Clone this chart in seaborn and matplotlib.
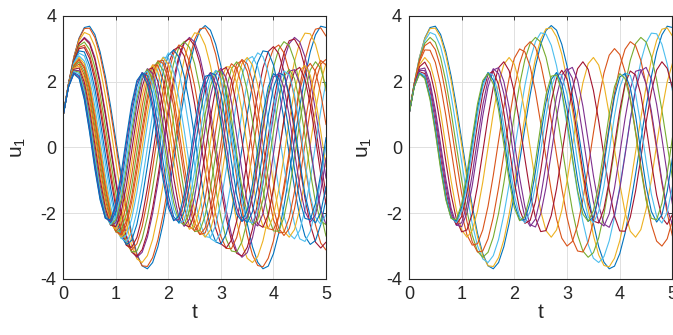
import numpy as np
import pandas as pd
import matplotlib
matplotlib.use("Agg")
import matplotlib.pyplot as plt
import seaborn as sns

# time grid of the solver output (step 0.1)
t = np.linspace(0, 5, 51)

# u1(t) for each run (named by first peak height)
u_370 = [1.00, 1.95, 2.74, 3.32, 3.64, 3.68, 3.43, 2.90, 2.16, 1.24, 0.22, -0.81, -1.78, -2.61, -3.23, -3.60, -3.69, -3.50, -3.02, -2.31, -1.42, -0.42, 0.61, 1.60, 2.46, 3.13, 3.55, 3.70, 3.56, 3.13, 2.47, 1.61, 0.62, -0.42, -1.42, -2.31, -3.02, -3.49, -3.69, -3.61, -3.23, -2.61, -1.78, -0.81, 0.22, 1.23, 2.15, 2.90, 3.42, 3.68, 3.64]
u_365 = [1.00, 1.95, 2.74, 3.30, 3.61, 3.62, 3.34, 2.79, 2.02, 1.08, 0.06, -0.97, -1.92, -2.72, -3.29, -3.60, -3.62, -3.35, -2.81, -2.04, -1.11, -0.09, 0.94, 1.90, 2.70, 3.28, 3.60, 3.63, 3.36, 2.83, 2.06, 1.14, 0.11, -0.92, -1.87, -2.68, -3.27, -3.59, -3.63, -3.37, -2.84, -2.09, -1.16, -0.14, 0.89, 1.85, 2.66, 3.25, 3.59, 3.63, 3.38]
u_350 = [1.00, 1.94, 2.71, 3.24, 3.49, 3.42, 3.06, 2.42, 1.57, 0.59, -0.45, -1.45, -2.32, -2.99, -3.39, -3.50, -3.29, -2.80, -2.05, -1.13, -0.11, 0.92, 1.88, 2.66, 3.21, 3.48, 3.44, 3.10, 2.48, 1.64, 0.66, -0.37, -1.38, -2.26, -2.95, -3.37, -3.50, -3.32, -2.84, -2.12, -1.20, -0.19, 0.85, 1.81, 2.61, 3.18, 3.47, 3.45, 3.13, 2.53, 1.71]
u_334 = [1.00, 1.93, 2.68, 3.16, 3.34, 3.19, 2.73, 2.00, 1.07, 0.04, -0.99, -1.93, -2.67, -3.16, -3.34, -3.19, -2.73, -2.01, -1.09, -0.06, 0.98, 1.91, 2.67, 3.16, 3.34, 3.20, 2.74, 2.02, 1.10, 0.07, -0.96, -1.91, -2.66, -3.15, -3.34, -3.20, -2.75, -2.03, -1.11, -0.08, 0.95, 1.89, 2.65, 3.15, 3.34, 3.20, 2.75, 2.04, 1.12, 0.09, -0.94]
u_331 = [1.00, 1.93, 2.67, 3.15, 3.31, 3.14, 2.66, 1.91, 0.98, -0.06, -1.09, -2.01, -2.73, -3.18, -3.31, -3.11, -2.60, -1.84, -0.89, 0.15, 1.17, 2.08, 2.78, 3.20, 3.30, 3.08, 2.55, 1.76, 0.80, -0.24, -1.26, -2.15, -2.83, -3.22, -3.30, -3.04, -2.49, -1.68, -0.71, 0.33, 1.34, 2.22, 2.87, 3.24, 3.29, 3.01, 2.43, 1.60, 0.62, -0.42, -1.43]
u_321 = [1.00, 1.93, 2.65, 3.09, 3.20, 2.97, 2.43, 1.62, 0.64, -0.40, -1.41, -2.26, -2.87, -3.18, -3.15, -2.78, -2.12, -1.23, -0.21, 0.83, 1.79, 2.55, 3.04, 3.21, 3.04, 2.54, 1.77, 0.81, -0.23, -1.25, -2.13, -2.79, -3.15, -3.18, -2.87, -2.25, -1.39, -0.38, 0.66, 1.64, 2.44, 2.98, 3.21, 3.09, 2.64, 1.91, 0.98, -0.06, -1.09, -2.00, -2.70]
u_312 = [1.00, 1.92, 2.63, 3.04, 3.10, 2.81, 2.21, 1.35, 0.34, -0.71, -1.68, -2.46, -2.96, -3.12, -2.93, -2.41, -1.61, -0.63, 0.42, 1.42, 2.26, 2.85, 3.11, 3.02, 2.59, 1.86, 0.93, -0.12, -1.14, -2.04, -2.71, -3.07, -3.08, -2.74, -2.09, -1.21, -0.18, 0.86, 1.81, 2.55, 3.00, 3.11, 2.87, 2.31, 1.48, 0.48, -0.57, -1.55, -2.36, -2.91, -3.12]
u_306 = [1.00, 1.92, 2.61, 3.00, 3.03, 2.70, 2.05, 1.16, 0.13, -0.91, -1.85, -2.57, -2.98, -3.04, -2.74, -2.12, -1.24, -0.22, 0.83, 1.78, 2.52, 2.96, 3.05, 2.78, 2.18, 1.32, 0.31, -0.74, -1.70, -2.46, -2.93, -3.06, -2.82, -2.24, -1.40, -0.40, 0.65, 1.63, 2.41, 2.91, 3.06, 2.85, 2.30, 1.48, 0.49, -0.56, -1.55, -2.35, -2.88, -3.06, -2.88]
u_300 = [1.00, 1.92, 2.60, 2.96, 2.95, 2.58, 1.89, 0.96, -0.08, -1.11, -2.01, -2.66, -2.97, -2.93, -2.51, -1.79, -0.85, 0.20, 1.22, 2.10, 2.71, 2.99, 2.90, 2.45, 1.69, 0.73, -0.32, -1.33, -2.18, -2.76, -3.00, -2.86, -2.37, -1.59, -0.61, 0.44, 1.44, 2.26, 2.80, 3.00, 2.82, 2.30, 1.49, 0.49, -0.56, -1.55, -2.34, -2.85, -3.00, -2.78, -2.22]
u_296 = [1.00, 1.91, 2.59, 2.93, 2.90, 2.49, 1.78, 0.83, -0.22, -1.24, -2.11, -2.70, -2.95, -2.83, -2.34, -1.56, -0.57, 0.48, 1.48, 2.28, 2.80, 2.96, 2.74, 2.17, 1.33, 0.31, -0.74, -1.70, -2.44, -2.87, -2.94, -2.63, -1.99, -1.09, -0.05, 0.99, 1.91, 2.58, 2.93, 2.90, 2.50, 1.78, 0.84, -0.21, -1.23, -2.10, -2.70, -2.95, -2.83, -2.35, -1.57]
u_288 = [1.00, 1.91, 2.56, 2.86, 2.78, 2.32, 1.54, 0.56, -0.50, -1.49, -2.28, -2.76, -2.87, -2.59, -1.95, -1.05, -0.01, 1.03, 1.93, 2.58, 2.87, 2.77, 2.30, 1.52, 0.53, -0.53, -1.52, -2.30, -2.77, -2.87, -2.57, -1.93, -1.02, 0.02, 1.06, 1.96, 2.59, 2.87, 2.76, 2.28, 1.49, 0.50, -0.56, -1.55, -2.32, -2.78, -2.86, -2.56, -1.90, -0.99, 0.05]
u_278 = [1.00, 1.90, 2.52, 2.78, 2.62, 2.08, 1.24, 0.21, -0.85, -1.78, -2.45, -2.77, -2.67, -2.18, -1.38, -0.37, 0.70, 1.66, 2.37, 2.74, 2.71, 2.28, 1.51, 0.52, -0.54, -1.53, -2.29, -2.71, -2.74, -2.37, -1.64, -0.68, 0.38, 1.39, 2.19, 2.67, 2.76, 2.45, 1.77, 0.83, -0.22, -1.25, -2.09, -2.63, -2.78, -2.52, -1.89, -0.98, 0.07, 1.11, 1.98]
u_273 = [1.00, 1.90, 2.51, 2.73, 2.54, 1.95, 1.07, 0.03, -1.02, -1.91, -2.51, -2.73, -2.53, -1.94, -1.06, -0.01, 1.04, 1.93, 2.52, 2.73, 2.52, 1.93, 1.04, -0.01, -1.06, -1.94, -2.53, -2.73, -2.51, -1.91, -1.02, 0.03, 1.08, 1.96, 2.54, 2.73, 2.50, 1.90, 1.00, -0.05, -1.10, -1.97, -2.55, -2.73, -2.50, -1.88, -0.98, 0.08, 1.12, 1.99, 2.55]
u_268 = [1.00, 1.89, 2.48, 2.68, 2.45, 1.82, 0.91, -0.15, -1.19, -2.03, -2.55, -2.67, -2.36, -1.67, -0.72, 0.35, 1.36, 2.16, 2.61, 2.64, 2.25, 1.51, 0.52, -0.55, -1.53, -2.27, -2.65, -2.60, -2.14, -1.33, -0.32, 0.75, 1.70, 2.37, 2.67, 2.54, 2.01, 1.15, 0.11, -0.94, -1.85, -2.46, -2.68, -2.47, -1.87, -0.97, 0.09, 1.13, 1.99, 2.53, 2.67]
u_265 = [1.00, 1.89, 2.47, 2.65, 2.39, 1.74, 0.81, -0.26, -1.28, -2.10, -2.57, -2.62, -2.24, -1.49, -0.50, 0.57, 1.55, 2.27, 2.63, 2.55, 2.06, 1.23, 0.19, -0.87, -1.79, -2.42, -2.65, -2.45, -1.84, -0.94, 0.12, 1.16, 2.01, 2.53, 2.64, 2.31, 1.61, 0.64, -0.43, -1.43, -2.20, -2.60, -2.58, -2.14, -1.35, -0.33, 0.74, 1.68, 2.36, 2.64, 2.50]
u_260 = [1.00, 1.89, 2.45, 2.59, 2.29, 1.60, 0.64, -0.44, -1.44, -2.19, -2.57, -2.51, -2.02, -1.18, -0.14, 0.92, 1.83, 2.42, 2.60, 2.33, 1.67, 0.72, -0.35, -1.37, -2.14, -2.56, -2.53, -2.07, -1.26, -0.23, 0.84, 1.76, 2.39, 2.60, 2.37, 1.73, 0.80, -0.27, -1.29, -2.09, -2.54, -2.55, -2.12, -1.33, -0.32, 0.76, 1.70, 2.35, 2.60, 2.40, 1.80]
u_255 = [1.00, 1.88, 2.42, 2.53, 2.19, 1.45, 0.46, -0.62, -1.59, -2.27, -2.55, -2.37, -1.76, -0.85, 0.22, 1.25, 2.06, 2.50, 2.49, 2.03, 1.21, 0.18, -0.89, -1.80, -2.39, -2.54, -2.25, -1.55, -0.57, 0.51, 1.49, 2.21, 2.54, 2.41, 1.85, 0.96, -0.11, -1.15, -1.99, -2.47, -2.51, -2.10, -1.31, -0.29, 0.78, 1.72, 2.34, 2.55, 2.30, 1.64, 0.69]
u_250 = [1.00, 1.88, 2.40, 2.47, 2.08, 1.30, 0.28, -0.80, -1.73, -2.33, -2.49, -2.19, -1.48, -0.49, 0.59, 1.56, 2.24, 2.50, 2.29, 1.65, 0.70, -0.38, -1.39, -2.14, -2.49, -2.37, -1.81, -0.91, 0.16, 1.20, 2.02, 2.45, 2.43, 1.95, 1.10, 0.05, -1.01, -1.88, -2.40, -2.47, -2.08, -1.29, -0.27, 0.81, 1.73, 2.33, 2.49, 2.19, 1.47, 0.48, -0.60]
u_245 = [1.00, 1.87, 2.37, 2.41, 1.97, 1.14, 0.09, -0.97, -1.85, -2.36, -2.41, -1.99, -1.17, -0.12, 0.95, 1.83, 2.35, 2.42, 2.00, 1.20, 0.15, -0.92, -1.81, -2.35, -2.42, -2.02, -1.22, -0.18, 0.89, 1.79, 2.34, 2.43, 2.04, 1.25, 0.21, -0.86, -1.77, -2.33, -2.43, -2.05, -1.27, -0.24, 0.84, 1.75, 2.32, 2.43, 2.07, 1.30, 0.27, -0.81, -1.73]
u_240 = [1.00, 1.86, 2.34, 2.33, 1.85, 0.98, -0.09, -1.14, -1.96, -2.37, -2.29, -1.74, -0.83, 0.25, 1.28, 2.05, 2.39, 2.24, 1.63, 0.68, -0.41, -1.41, -2.13, -2.40, -2.18, -1.50, -0.52, 0.57, 1.54, 2.20, 2.40, 2.10, 1.38, 0.36, -0.72, -1.66, -2.26, -2.39, -2.02, -1.24, -0.20, 0.87, 1.77, 2.31, 2.36, 1.93, 1.10, 0.04, -1.02, -1.88, -2.35]
u_237 = [1.00, 1.86, 2.32, 2.29, 1.77, 0.88, -0.20, -1.24, -2.02, -2.36, -2.20, -1.58, -0.62, 0.48, 1.47, 2.15, 2.37, 2.09, 1.36, 0.35, -0.74, -1.67, -2.25, -2.35, -1.94, -1.13, -0.07, 1.00, 1.86, 2.32, 2.29, 1.77, 0.88, -0.20, -1.24, -2.02, -2.36, -2.20, -1.58, -0.62, 0.48, 1.47, 2.15, 2.37, 2.09, 1.36, 0.35, -0.74, -1.67, -2.25, -2.35]
u_234 = [1.00, 1.85, 2.30, 2.24, 1.69, 0.77, -0.32, -1.34, -2.07, -2.34, -2.10, -1.40, -0.39, 0.70, 1.64, 2.22, 2.31, 1.90, 1.07, 0.00, -1.06, -1.89, -2.31, -2.22, -1.65, -0.71, 0.38, 1.39, 2.10, 2.34, 2.07, 1.35, 0.33, -0.76, -1.69, -2.24, -2.30, -1.86, -1.01, 0.06, 1.12, 1.93, 2.32, 2.20, 1.60, 0.64, -0.45, -1.45, -2.13, -2.34, -2.04]
u_230 = [1.00, 1.85, 2.27, 2.18, 1.59, 0.63, -0.47, -1.46, -2.12, -2.29, -1.94, -1.15, -0.09, 0.99, 1.84, 2.27, 2.18, 1.60, 0.65, -0.45, -1.45, -2.11, -2.29, -1.95, -1.16, -0.11, 0.97, 1.83, 2.27, 2.19, 1.61, 0.66, -0.44, -1.44, -2.11, -2.29, -1.96, -1.17, -0.12, 0.96, 1.82, 2.26, 2.19, 1.62, 0.67, -0.42, -1.43, -2.10, -2.30, -1.97, -1.19]
u_227 = [1.00, 1.84, 2.25, 2.13, 1.50, 0.52, -0.58, -1.55, -2.15, -2.24, -1.81, -0.94, 0.14, 1.19, 1.96, 2.27, 2.04, 1.33, 0.31, -0.79, -1.70, -2.21, -2.20, -1.67, -0.74, 0.36, 1.37, 2.06, 2.27, 1.94, 1.15, 0.09, -0.99, -1.84, -2.25, -2.13, -1.51, -0.53, 0.57, 1.54, 2.14, 2.24, 1.81, 0.96, -0.13, -1.18, -1.95, -2.27, -2.05, -1.34, -0.32]
u_225 = [1.00, 1.84, 2.23, 2.09, 1.44, 0.45, -0.66, -1.60, -2.16, -2.20, -1.71, -0.80, 0.29, 1.32, 2.03, 2.25, 1.92, 1.14, 0.08, -1.00, -1.84, -2.23, -2.09, -1.44, -0.44, 0.66, 1.60, 2.16, 2.20, 1.70, 0.80, -0.30, -1.32, -2.03, -2.25, -1.92, -1.13, -0.07, 1.01, 1.84, 2.24, 2.09, 1.44, 0.44, -0.66, -1.61, -2.16, -2.20, -1.70, -0.80, 0.30]

# MATLAB default line colours
blue, orange, yellow = "#0072BD", "#D95319", "#EDB120"
purple, green, lightblue, darkred = "#7E2F8E", "#77AC30", "#4DBEEE", "#A2142F"

# left panel: random samples
left_curves = [u_370, u_365, u_350, u_334, u_331, u_321, u_312, u_306, u_296,
               u_288, u_278, u_273, u_268, u_265, u_260, u_255, u_250, u_245,
               u_240, u_237, u_234, u_230, u_227, u_225]
left_colors = [blue, orange, yellow, purple, darkred, green, orange, darkred, blue,
               lightblue, lightblue, yellow, orange, orange, green, orange, yellow, darkred,
               purple, green, lightblue, blue, purple, blue]

# right panel: collocation runs
right_curves = [u_370, u_365, u_350, u_334, u_321, u_300, u_273, u_260,
                u_245, u_240, u_234, u_230, u_227, u_225]
right_colors = [blue, yellow, lightblue, green, orange, orange, yellow, darkred,
                purple, purple, darkred, lightblue, blue, green]


def to_frame(curves):
    frames = []
    for i, vals in enumerate(curves):
        frames.append(pd.DataFrame({"t": t, "u1": vals, "run": f"r{i:02d}"}))
    return pd.concat(frames, ignore_index=True)


sns.set_theme(style="whitegrid")
plt.rcParams["font.family"] = ["Liberation Sans", "DejaVu Sans"]
plt.rcParams["mathtext.fontset"] = "custom"
plt.rcParams["mathtext.rm"] = "Liberation Sans"
plt.rcParams["mathtext.it"] = "Liberation Sans:italic"
plt.rcParams["axes.unicode_minus"] = False

fig = plt.figure(figsize=(6.73, 3.35), dpi=100)
ax_left = fig.add_axes([0.0941, 0.1672, 0.3903, 0.7860])
ax_right = fig.add_axes([0.6077, 0.1672, 0.3915, 0.7860])

for ax, curves, colors in [(ax_left, left_curves, left_colors),
                           (ax_right, right_curves, right_colors)]:
    df = to_frame(curves)
    sns.lineplot(data=df, x="t", y="u1", hue="run", palette=colors,
                 estimator=None, sort=False, legend=False, linewidth=0.8, ax=ax)
    ax.set_xlim(0, 5)
    ax.set_ylim(-4, 4)
    ax.set_xticks([0, 1, 2, 3, 4, 5])
    ax.set_yticks([-4, -2, 0, 2, 4])
    ax.set_xlabel("t", fontsize=15, labelpad=0)
    ax.set_ylabel("u$_1$", fontsize=15, labelpad=9)
    ax.tick_params(labelsize=13, direction="in", length=3, width=0.6,
                   top=True, right=True, colors="#262626", pad=5)
    ax.grid(True, color="#e0e0e0", linewidth=0.7)
    for s in ax.spines.values():
        s.set_color("#262626")
        s.set_linewidth(0.8)

fig.savefig("out.png", dpi=100)
